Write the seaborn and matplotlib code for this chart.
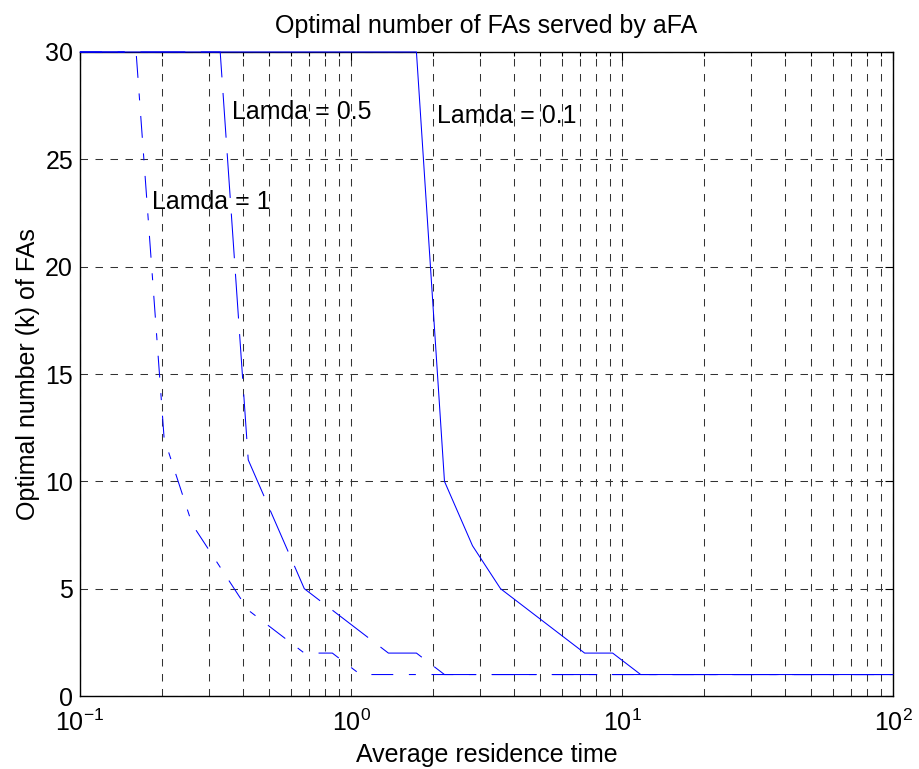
import matplotlib
matplotlib.use("Agg")
import matplotlib.pyplot as plt
import matplotlib.ticker as mticker
import seaborn as sns
import pandas as pd

# residence time samples (log spaced, 0.1 .. 100)
res_time = [0.1, 0.1269, 0.1610, 0.2043, 0.2593, 0.3290, 0.4175, 0.5298,
            0.6723, 0.8532, 1.0826, 1.3738, 1.7433, 2.2122, 2.8072, 3.5622,
            4.5204, 5.7362, 7.2790, 9.2367, 11.7210, 14.8735, 18.8739,
            23.9503, 30.3920, 38.5662, 48.9390, 62.1017, 78.8046, 100.0]

k_lamda_01 = [30, 30, 30, 30, 30, 30, 30, 30, 30, 30, 30, 30, 30, 10, 7,
              5, 4, 3, 2, 2, 1, 1, 1, 1, 1, 1, 1, 1, 1, 1]
k_lamda_05 = [30, 30, 30, 30, 30, 30, 11, 8, 5, 4, 3, 2, 2, 1, 1,
              1, 1, 1, 1, 1, 1, 1, 1, 1, 1, 1, 1, 1, 1, 1]
k_lamda_1 = [30, 30, 30, 12, 8, 6, 4, 3, 2, 2, 1, 1, 1, 1, 1,
             1, 1, 1, 1, 1, 1, 1, 1, 1, 1, 1, 1, 1, 1, 1]

lamdas = ["0.1", "0.5", "1"]
series = [k_lamda_01, k_lamda_05, k_lamda_1]

df = pd.concat([pd.DataFrame({"time": res_time, "k": s, "lamda": lam})
                for lam, s in zip(lamdas, series)], ignore_index=True)

sns.set_theme(style="white")
plt.rcParams["font.family"] = ["Liberation Sans", "DejaVu Sans"]
plt.rcParams["mathtext.fontset"] = "custom"
plt.rcParams["mathtext.rm"] = "Liberation Sans"
plt.rcParams["mathtext.it"] = "Liberation Sans"
for key in ["text.color", "axes.labelcolor", "xtick.color", "ytick.color"]:
    plt.rcParams[key] = "black"
FS = 18

fig, ax = plt.subplots(figsize=(9.19, 7.69), dpi=100)
fig.subplots_adjust(left=0.0871, right=0.9717, bottom=0.0949, top=0.9324)

LW = 0.75
sns.lineplot(data=df, x="time", y="k", style="lamda", style_order=lamdas,
             dashes={"0.1": "", "0.5": (43, 15), "1": (21, 15, 6.7, 15)},
             color="blue", linewidth=LW, estimator=None, legend=False,
             ax=ax, zorder=3, clip_on=False)

ax.set_xscale("log")
ax.set_xlim(0.1, 100)
ax.set_ylim(0, 30)
ax.set_yticks([0, 5, 10, 15, 20, 25, 30])
ax.xaxis.set_minor_formatter(mticker.NullFormatter())

grid_kw = dict(color="0.2", linestyle=(0, (7.2, 7.2)), linewidth=LW)
ax.grid(True, which="major", axis="both", **grid_kw)
ax.grid(True, which="minor", axis="x", **grid_kw)

for sp in ax.spines.values():
    sp.set_color("black")
    sp.set_linewidth(1.0)

ax.tick_params(which="both", direction="in", top=True, right=True,
               labelsize=FS, color="black", width=0.8)
ax.tick_params(which="major", length=6)
ax.tick_params(which="minor", length=3)
ax.tick_params(axis="y", which="major", pad=5)
ax.tick_params(axis="x", which="major", pad=10)

ax.set_title("Optimal number of FAs served by aFA", fontsize=FS, pad=14)
ax.set_xlabel("Average residence time", fontsize=FS, labelpad=5)
ax.set_ylabel("Optimal number (k) of FAs", fontsize=FS, labelpad=4)

ax.text(0.363, 26.9, "Lamda = 0.5", fontsize=FS, va="baseline", ha="left")
ax.text(0.184, 22.67, "Lamda = 1", fontsize=FS, va="baseline", ha="left")
ax.text(2.082, 26.7, "Lamda = 0.1", fontsize=FS, va="baseline", ha="left")

fig.savefig("out.png", dpi=100)
